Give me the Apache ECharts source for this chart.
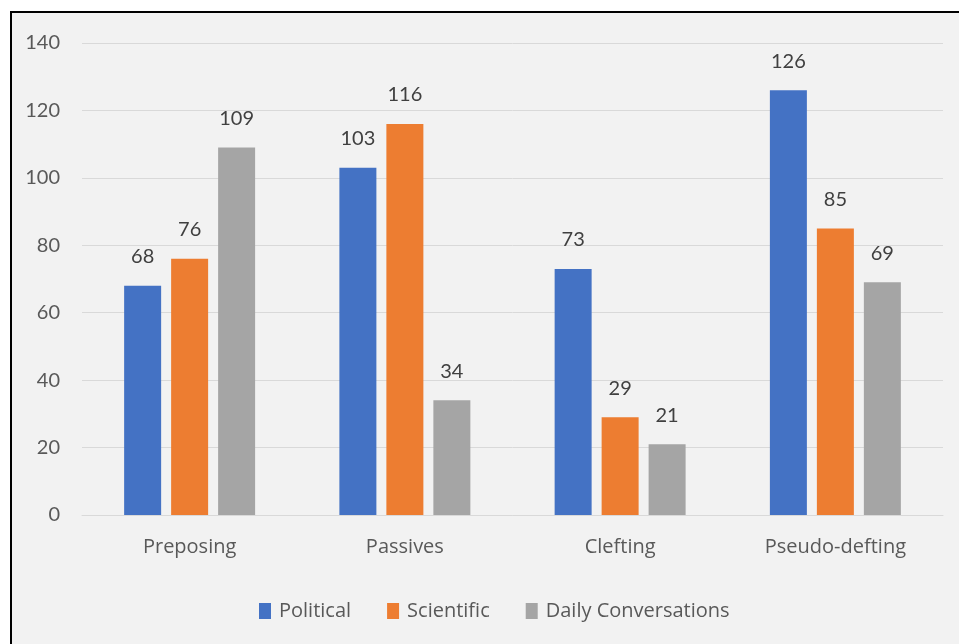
<!DOCTYPE html>
<html>
<head>
<meta charset="utf-8">
<script src="https://cdn.jsdelivr.net/npm/echarts@6/dist/echarts.min.js"></script>
<style>
html,body{margin:0;padding:0;background:#fff;width:959px;height:644px;overflow:hidden;}
#frame{position:absolute;left:10px;top:11px;width:960px;height:650px;border-left:2px solid #000;border-top:2px solid #000;background:#f2f2f2;}
#chart{position:absolute;left:0;top:0;width:959px;height:644px;}
</style>
</head>
<body>
<div id="frame"></div>
<div id="chart"></div>
<script>
var categories = ['Preposing', 'Passives', 'Clefting', 'Pseudo-clefting'];
var categoryLabels = ['Preposing', 'Passives', 'Clefting', 'Pseudo-defting'];
var political = [68, 103, 73, 126];
var scientific = [76, 116, 29, 85];
var dailyConversations = [109, 34, 21, 69];
var seriesNames = ['Political', 'Scientific', 'Daily Conversations'];
var yTicks = [0, 20, 40, 60, 80, 100, 120, 140];

var numFont = 'Lato, sans-serif';
var txtFont = '"Open Sans", sans-serif';
var chart = echarts.init(document.getElementById('chart'), null, {renderer: 'canvas'});
function mk(name, data, color) {
  return {
    name: name, type: 'bar', data: data, barWidth: 37, barGap: '27%',
    itemStyle: {color: color},
    label: {show: true, position: 'top', distance: 19, color: '#404040', fontSize: 20, fontFamily: numFont}
  };
}
chart.setOption({
  backgroundColor: 'transparent',
  animation: false,
  grid: {left: 82, right: 16, top: 43, bottom: 129, containLabel: false},
  legend: {
    bottom: 18, left: 254, itemWidth: 12, itemHeight: 16, itemGap: 36,
    icon: 'rect',
    textStyle: {color: '#595959', fontSize: 20, fontFamily: txtFont, padding: [0, 0, 0, 3]},
    data: seriesNames
  },
  xAxis: {
    type: 'category', data: categories,
    axisLine: {lineStyle: {color: '#d9d9d9', width: 1}},
    axisTick: {show: false},
    axisLabel: {color: '#595959', fontSize: 20, fontFamily: txtFont, margin: 22,
      formatter: function (v, i) { return categoryLabels[i]; }}
  },
  yAxis: {
    type: 'value', min: yTicks[0], max: yTicks[yTicks.length - 1], interval: 20,
    axisLine: {show: false}, axisTick: {show: false},
    axisLabel: {color: '#595959', fontSize: 20, fontFamily: numFont, margin: 22},
    splitLine: {lineStyle: {color: '#d9d9d9', width: 1}}
  },
  series: [
    mk(seriesNames[0], political, '#4472c4'),
    mk(seriesNames[1], scientific, '#ed7d31'),
    mk(seriesNames[2], dailyConversations, '#a5a5a5')
  ]
});
</script>
</body>
</html>
